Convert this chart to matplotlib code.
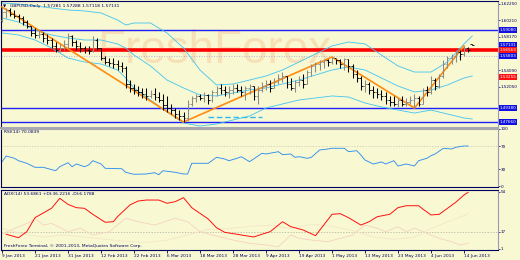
import numpy as np
import matplotlib
matplotlib.use("Agg")
import matplotlib.pyplot as plt
from matplotlib.transforms import blended_transform_factory

BG = "#f8f8d2"
NAVY = "#000060"

# x axis: bar index and the date labels
date_labels = ["9 Jan 2013", "21 Jan 2013", "31 Jan 2013", "12 Feb 2013", "22 Feb 2013",
               "6 Mar 2013", "18 Mar 2013", "28 Mar 2013", "9 Apr 2013", "19 Apr 2013",
               "1 May 2013", "13 May 2013", "23 May 2013", "4 Jun 2013", "14 Jun 2013"]
date_idx = [0, 8, 16, 24, 32, 40, 48, 56, 64, 72, 80, 88, 96, 104, 112]

# GBPUSD daily bars
bar_high = [1.6188, 1.6176, 1.6176, 1.6151, 1.6101, 1.6077, 1.6027, 1.5953, 1.5928, 1.5904,
            1.5879, 1.5854, 1.5805, 1.5755, 1.5731, 1.5780, 1.5867, 1.5842, 1.5780, 1.5755,
            1.5706, 1.5706, 1.5829, 1.5805, 1.5681, 1.5582, 1.5557, 1.5557, 1.5533, 1.5508,
            1.5459, 1.5285, 1.5236, 1.5211, 1.5187, 1.5187, 1.5162, 1.5187, 1.5137, 1.5112,
            1.5088, 1.4989, 1.4939, 1.4914, 1.4890, 1.5038, 1.5088, 1.5112, 1.5112, 1.5137,
            1.5112, 1.5162, 1.5211, 1.5236, 1.5211, 1.5211, 1.5236, 1.5236, 1.5211, 1.5211,
            1.5236, 1.5211, 1.5211, 1.5261, 1.5285, 1.5285, 1.5310, 1.5360, 1.5384, 1.5335,
            1.5310, 1.5285, 1.5335, 1.5360, 1.5409, 1.5483, 1.5508, 1.5533, 1.5533, 1.5545,
            1.5570, 1.5545, 1.5545, 1.5557, 1.5545, 1.5483, 1.5409, 1.5335, 1.5285, 1.5261,
            1.5211, 1.5187, 1.5162, 1.5137, 1.5088, 1.5088, 1.5063, 1.5088, 1.5063, 1.5088,
            1.5112, 1.5088, 1.5187, 1.5211, 1.5335, 1.5310, 1.5360, 1.5533, 1.5582, 1.5607,
            1.5656, 1.5656, 1.5706, 1.5693, 1.5729]
bar_low = [1.6003, 1.6052, 1.6077, 1.6052, 1.6003, 1.5965, 1.5928, 1.5829, 1.5805, 1.5805,
           1.5755, 1.5731, 1.5681, 1.5632, 1.5632, 1.5656, 1.5681, 1.5706, 1.5656, 1.5632,
           1.5619, 1.5607, 1.5632, 1.5656, 1.5533, 1.5483, 1.5459, 1.5434, 1.5409, 1.5384,
           1.5187, 1.5137, 1.5112, 1.5088, 1.5063, 1.5038, 1.5063, 1.5038, 1.5013, 1.4914,
           1.4890, 1.4865, 1.4816, 1.4791, 1.4766, 1.4791, 1.4964, 1.5013, 1.5038, 1.5013,
           1.4989, 1.5013, 1.5088, 1.5112, 1.5088, 1.5063, 1.5112, 1.5137, 1.5088, 1.5038,
           1.5112, 1.5038, 1.4989, 1.5137, 1.5162, 1.5137, 1.5187, 1.5236, 1.5261, 1.5187,
           1.5162, 1.5137, 1.5211, 1.5187, 1.5236, 1.5335, 1.5384, 1.5409, 1.5434, 1.5459,
           1.5483, 1.5483, 1.5434, 1.5409, 1.5384, 1.5310, 1.5261, 1.5162, 1.5137, 1.5112,
           1.5063, 1.5063, 1.5038, 1.4989, 1.4964, 1.4964, 1.4952, 1.4964, 1.4964, 1.4989,
           1.4939, 1.4964, 1.4989, 1.5088, 1.5112, 1.5162, 1.5187, 1.5310, 1.5434, 1.5483,
           1.5508, 1.5533, 1.5582, 1.5632, 1.5712]
bar_open = [1.6027, 1.6126, 1.6151, 1.6101, 1.6077, 1.6052, 1.6003, 1.5953, 1.5867, 1.5842,
            1.5854, 1.5805, 1.5780, 1.5706, 1.5656, 1.5681, 1.5731, 1.5829, 1.5755, 1.5706,
            1.5681, 1.5656, 1.5644, 1.5780, 1.5681, 1.5557, 1.5508, 1.5496, 1.5483, 1.5459,
            1.5434, 1.5236, 1.5187, 1.5162, 1.5137, 1.5112, 1.5088, 1.5112, 1.5075, 1.5038,
            1.4976, 1.4939, 1.4914, 1.4865, 1.4840, 1.4816, 1.4989, 1.5063, 1.5088, 1.5063,
            1.5100, 1.5038, 1.5137, 1.5187, 1.5162, 1.5137, 1.5162, 1.5187, 1.5162, 1.5137,
            1.5187, 1.5211, 1.5088, 1.5162, 1.5211, 1.5236, 1.5187, 1.5261, 1.5310, 1.5335,
            1.5236, 1.5187, 1.5261, 1.5285, 1.5236, 1.5384, 1.5459, 1.5483, 1.5508, 1.5533,
            1.5508, 1.5557, 1.5533, 1.5483, 1.5545, 1.5459, 1.5360, 1.5310, 1.5211, 1.5236,
            1.5162, 1.5137, 1.5112, 1.5088, 1.5038, 1.5013, 1.4989, 1.5038, 1.4989, 1.5013,
            1.5038, 1.5063, 1.4989, 1.5162, 1.5137, 1.5285, 1.5211, 1.5335, 1.5483, 1.5557,
            1.5582, 1.5632, 1.5607, 1.5681, 1.5728]
bar_close = [1.6126, 1.6151, 1.6101, 1.6077, 1.6052, 1.6003, 1.5953, 1.5867, 1.5842, 1.5854,
             1.5805, 1.5780, 1.5706, 1.5656, 1.5681, 1.5731, 1.5829, 1.5755, 1.5706, 1.5681,
             1.5656, 1.5644, 1.5780, 1.5681, 1.5557, 1.5508, 1.5496, 1.5483, 1.5459, 1.5434,
             1.5236, 1.5187, 1.5162, 1.5137, 1.5112, 1.5088, 1.5112, 1.5075, 1.5038, 1.4976,
             1.4939, 1.4914, 1.4865, 1.4840, 1.4816, 1.4989, 1.5063, 1.5088, 1.5063, 1.5100,
             1.5038, 1.5137, 1.5187, 1.5162, 1.5137, 1.5162, 1.5187, 1.5162, 1.5137, 1.5187,
             1.5211, 1.5088, 1.5162, 1.5211, 1.5236, 1.5187, 1.5261, 1.5310, 1.5335, 1.5236,
             1.5187, 1.5261, 1.5285, 1.5236, 1.5384, 1.5459, 1.5483, 1.5508, 1.5533, 1.5508,
             1.5557, 1.5533, 1.5483, 1.5545, 1.5459, 1.5360, 1.5310, 1.5211, 1.5236, 1.5162,
             1.5137, 1.5112, 1.5088, 1.5038, 1.5013, 1.4989, 1.5038, 1.4989, 1.5013, 1.5038,
             1.5063, 1.4989, 1.5162, 1.5137, 1.5285, 1.5211, 1.5335, 1.5483, 1.5557, 1.5582,
             1.5632, 1.5607, 1.5681, 1.5656, 1.5713]

# Bollinger bands, sampled along the chart
bb_idx = [0, 4, 8, 12, 16, 20, 24, 28, 30, 32, 36, 40, 44, 48, 52, 56, 60, 64, 68, 72,
          76, 80, 84, 88, 92, 96, 100, 104, 108, 112, 114]
bb_upper = [1.6237, 1.6225, 1.6200, 1.6176, 1.6151, 1.6139, 1.6114, 1.6027, 1.5965, 1.5990,
            1.5990, 1.5867, 1.5681, 1.5409, 1.5224, 1.5236, 1.5285, 1.5335, 1.5409, 1.5508,
            1.5607, 1.5706, 1.5755, 1.5731, 1.5594, 1.5459, 1.5384, 1.5384, 1.5508, 1.5731,
            1.5829]
bb_mid = [1.6052, 1.6002, 1.5904, 1.5842, 1.5805, 1.5780, 1.5780, 1.5731, 1.5681, 1.5594,
          1.5459, 1.5285, 1.5187, 1.5100, 1.5088, 1.5125, 1.5162, 1.5187, 1.5236, 1.5285,
          1.5347, 1.5409, 1.5446, 1.5409, 1.5310, 1.5211, 1.5137, 1.5162, 1.5224, 1.5310,
          1.5335]
bb_lower = [1.5867, 1.5842, 1.5780, 1.5681, 1.5557, 1.5508, 1.5483, 1.5409, 1.5310, 1.5187,
            1.5038, 1.4890, 1.4754, 1.4717, 1.4741, 1.4791, 1.4840, 1.4939, 1.4989, 1.5038,
            1.5063, 1.5088, 1.5075, 1.5001, 1.4952, 1.4914, 1.4877, 1.4914, 1.4865, 1.4816,
            1.4803]

# zigzag swing points
zz_idx = [0, 44, 80, 100, 112]
zz_price = [1.6188, 1.4766, 1.5570, 1.4939, 1.5706]

# horizontal levels and their boxes
blue_levels = [1.5908, 1.4938, 1.4766]
red_level = 1.56563
dotted_level = 1.5580
dash_level = 1.4828
dash_span = [50, 63]
box_values = [1.57131, 1.56563, 1.55803, 1.59080, 1.53255, 1.49380, 1.47660]
box_colors = ["#1010e0", "#ff1010", "#1010e0", "#1010e0", "#ff1010", "#1010e0", "#1010e0"]
price_ticks = [1.6225, 1.6021, 1.5817, 1.5409, 1.5205]

# RSI(14)
rsi_idx = [0, 1, 3, 4, 6, 8, 10, 13, 14, 16, 17, 18, 20, 21, 22, 24, 25, 29, 30, 32,
           35, 37, 38, 39, 42, 44, 45, 46, 49, 50, 52, 54, 55, 57, 58, 60, 61, 63, 64, 67,
           68, 70, 71, 72, 74, 75, 77, 79, 80, 83, 84, 86, 87, 88, 90, 92, 93, 95, 96, 98,
           100, 101, 103, 104, 105, 107, 109, 110, 112, 113]
rsi_val = [42.8, 52.7, 48.7, 44.5, 40.0, 33.0, 33.0, 27.1, 34.1, 41.0, 34.1, 38.8, 34.1, 37.0, 44.5,
           38.8, 31.3, 30.6, 24.3, 20.9, 21.4, 23.7, 20.2, 27.1, 24.3, 21.4, 21.4, 40.0, 40.0, 40.0,
           50.4, 47.5, 44.5, 48.7, 51.5, 42.8, 47.5, 57.4, 56.2, 60.2, 55.0, 56.2, 50.4, 51.5, 48.7,
           50.4, 63.1, 64.9, 66.1, 66.1, 60.2, 61.9, 54.4, 45.7, 38.8, 42.3, 38.8, 44.5, 35.3, 38.8,
           35.3, 44.5, 48.7, 53.2, 56.2, 66.1, 64.9, 67.8, 70.1, 70.1]

# ADX(14)
adx_idx = [1, 4, 6, 8, 12, 14, 16, 18, 20, 22, 25, 27, 28, 31, 33, 35, 38, 40, 42, 44,
           46, 50, 52, 54, 57, 59, 61, 63, 65, 68, 70, 73, 76, 78, 80, 82, 84, 87, 89, 91,
           94, 96, 98, 101, 102, 104, 106, 108, 110, 112, 113]
adx_val = [14.6, 11.4, 17.0, 30.1, 38.8, 48.1, 42.5, 39.4, 38.8, 33.2, 25.8, 26.3, 31.0, 41.9, 45.6,
           46.5, 46.5, 43.5, 45.0, 48.7, 39.4, 28.8, 20.7, 16.4, 14.6, 13.3, 12.1, 14.6, 17.0, 26.3,
           21.7, 18.6, 13.3, 23.2, 33.2, 33.8, 30.1, 23.2, 26.3, 31.0, 33.2, 39.4, 41.2, 41.2, 38.2,
           32.6, 33.2, 38.8, 44.4, 51.2, 53.7]
mdi_idx = [0, 7, 8, 10, 12, 16, 19, 22, 26, 30, 33, 37, 42, 45, 48, 51, 56, 60, 64, 67,
           70, 72, 75, 79, 82, 85, 88, 91, 93, 96, 98, 100, 104, 106, 109, 111, 113]
mdi_val = [15.0, 26.3, 29.5, 23.2, 24.7, 17.0, 20.2, 13.9, 17.0, 29.5, 26.3, 23.2, 29.5, 26.3, 17.0,
           13.9, 9.2, 6.2, 4.6, 3.0, 13.9, 10.8, 9.2, 7.7, 10.8, 13.9, 23.2, 20.2, 17.0, 21.7,
           17.0, 20.2, 13.9, 10.8, 7.7, 4.6, 6.2]
pdi_idx = [0, 5, 10, 15, 20, 25, 30, 35, 40, 45, 50, 55, 60, 65, 70, 75, 80, 85, 90, 95,
           100, 104, 108, 112, 113]
pdi_val = [20, 15, 12, 14, 12, 10, 8, 7, 9, 14, 19, 20, 22, 23, 20, 24, 22, 18, 12, 10,
           12, 20, 26, 32, 34]

title = "GBPUSD,Daily  1.57281 1.57288 1.57118 1.57131"
rsi_title = "RSI(14) 70.0839"
adx_title = "ADX(14) 53.6861 +DI:36.2216 -DI:6.1788"
copyright = "FreshForex Terminal, \u00a9 2001-2013, MetaQuotes Software Corp."

W, H = 520, 260
fig = plt.figure(figsize=(W / 100, H / 100), dpi=100, facecolor=BG)


def panel(top, bottom):
	return fig.add_axes([1 / W, 1 - bottom / H, 497 / W, (bottom - top) / H], facecolor=BG)


def style(ax, fs=3.0):
	ax.yaxis.tick_right()
	ax.tick_params(axis="y", length=1.2, width=0.5, colors=NAVY, labelsize=fs, pad=0.6)
	ax.tick_params(axis="x", length=0, labelbottom=False)
	ax.set_xlim(-0.25, 120.25)
	for s in ax.spines.values():
		s.set_linewidth(0.8)
	ax.spines["left"].set_color(NAVY)
	ax.spines["right"].set_color("#9a9ab8")


# ---- main price panel ----
ax = panel(1, 128)
style(ax)
ax.set_ylim(1.4692, 1.6262)
ax.spines["top"].set_color(NAVY)
ax.spines["bottom"].set_color("#a8a8b0")
ax.spines["bottom"].set_linewidth(1.5)
ax.set_yticks(price_ticks)
ax.set_yticklabels([f"{v:.5f}" for v in price_ticks])

ax.text(0.43, 0.61, "FreshForex", transform=ax.transAxes, ha="center", va="center",
        fontsize=33, color="#f7dfb6", family=["Liberation Sans Narrow", "Liberation Sans", "DejaVu Sans"], zorder=0)

for lv in blue_levels:
	ax.axhline(lv, color="#2020ff", lw=1.0, zorder=1)
ax.axhline(red_level, color="#ff0000", lw=2.6, zorder=1)
ax.axhline(dotted_level, color="#a0a0e0", lw=0.6, ls=(0, (1, 2)), zorder=1)
ax.hlines(dash_level, dash_span[0], dash_span[1], color="#30b8f0", lw=1.0, ls=(0, (4, 2)))

ax.plot(bb_idx, bb_upper, color="#40c4f2", lw=0.6)
ax.plot(bb_idx, bb_mid, color="#40c4f2", lw=0.6)
ax.plot(bb_idx, bb_lower, color="#40c4f2", lw=0.6)

ax.plot(zz_idx, zz_price, color="#ff8c10", lw=1.2, zorder=3)

x = np.arange(len(bar_high))
o = np.array(bar_open)
c = np.array(bar_close)
cols = np.where(c < o, "#000000", "#8a8a8a")
ax.vlines(x, bar_low, bar_high, colors=cols, lw=0.75, zorder=4)
ax.hlines(o, x - 0.45, x, colors=cols, lw=0.6, zorder=4)
ax.hlines(c, x, x + 0.45, colors=cols, lw=0.6, zorder=4)

ax.text(0.004, 0.975, "\u25bc", transform=ax.transAxes, fontsize=3, color=NAVY, va="top")
ax.text(0.018, 0.975, title, transform=ax.transAxes, fontsize=3.2, color=NAVY, va="top")

tr = blended_transform_factory(ax.transAxes, ax.transData)
for v, col in zip(box_values, box_colors):
	ax.text(1.003, v, f"{v:.5f}", transform=tr, fontsize=3.0, color="white", va="center", ha="left",
	        bbox=dict(facecolor=col, edgecolor="none", pad=0.7), clip_on=False, zorder=6)

# ---- RSI panel ----
ax2 = panel(128.5, 187)
style(ax2)
ax2.set_ylim(-1.2, 100.5)
ax2.set_yticks([0, 30, 70, 100])
ax2.set_yticklabels(["0", "30", "70", "100"])
ax2.spines["top"].set_color("#a8a8b0")
ax2.spines["bottom"].set_color(NAVY)
ax2.axhline(70, color="#c8c8b0", lw=0.5, ls=(0, (2, 2)))
ax2.plot(rsi_idx, rsi_val, color="#3090ee", lw=0.65)
ax2.text(0.006, 0.97, rsi_title, transform=ax2.transAxes, fontsize=3.2, color=NAVY, va="top")

# ---- ADX panel ----
ax3 = panel(190, 250)
style(ax3)
ax3.set_ylim(-0.06, 55.86)
ax3.set_yticks([1, 17, 54])
ax3.set_yticklabels(["1", "17", "54"])
ax3.spines["top"].set_color(NAVY)
ax3.spines["bottom"].set_color(NAVY)
ax3.axhline(17, color="#b0b0a0", lw=0.5, ls=(0, (2, 2)))
ax3.plot(pdi_idx, pdi_val, color="#f4e6c8", lw=0.6)
ax3.plot(mdi_idx, mdi_val, color="#f5d3c0", lw=0.6)
ax3.plot(adx_idx, adx_val, color="#ff1010", lw=0.7)
ax3.text(0.006, 0.97, adx_title, transform=ax3.transAxes, fontsize=3.2, color=NAVY, va="top")
ax3.text(0.006, 0.03, copyright, transform=ax3.transAxes, fontsize=3.2, color=NAVY, va="bottom")

ax3.set_xticks(date_idx)
ax3.set_xticklabels(date_labels, ha="left")
ax3.tick_params(axis="x", length=2, width=0.6, colors=NAVY, labelsize=3.1, pad=1, labelbottom=True)

fig.savefig("out.png", dpi=100, facecolor=BG)
